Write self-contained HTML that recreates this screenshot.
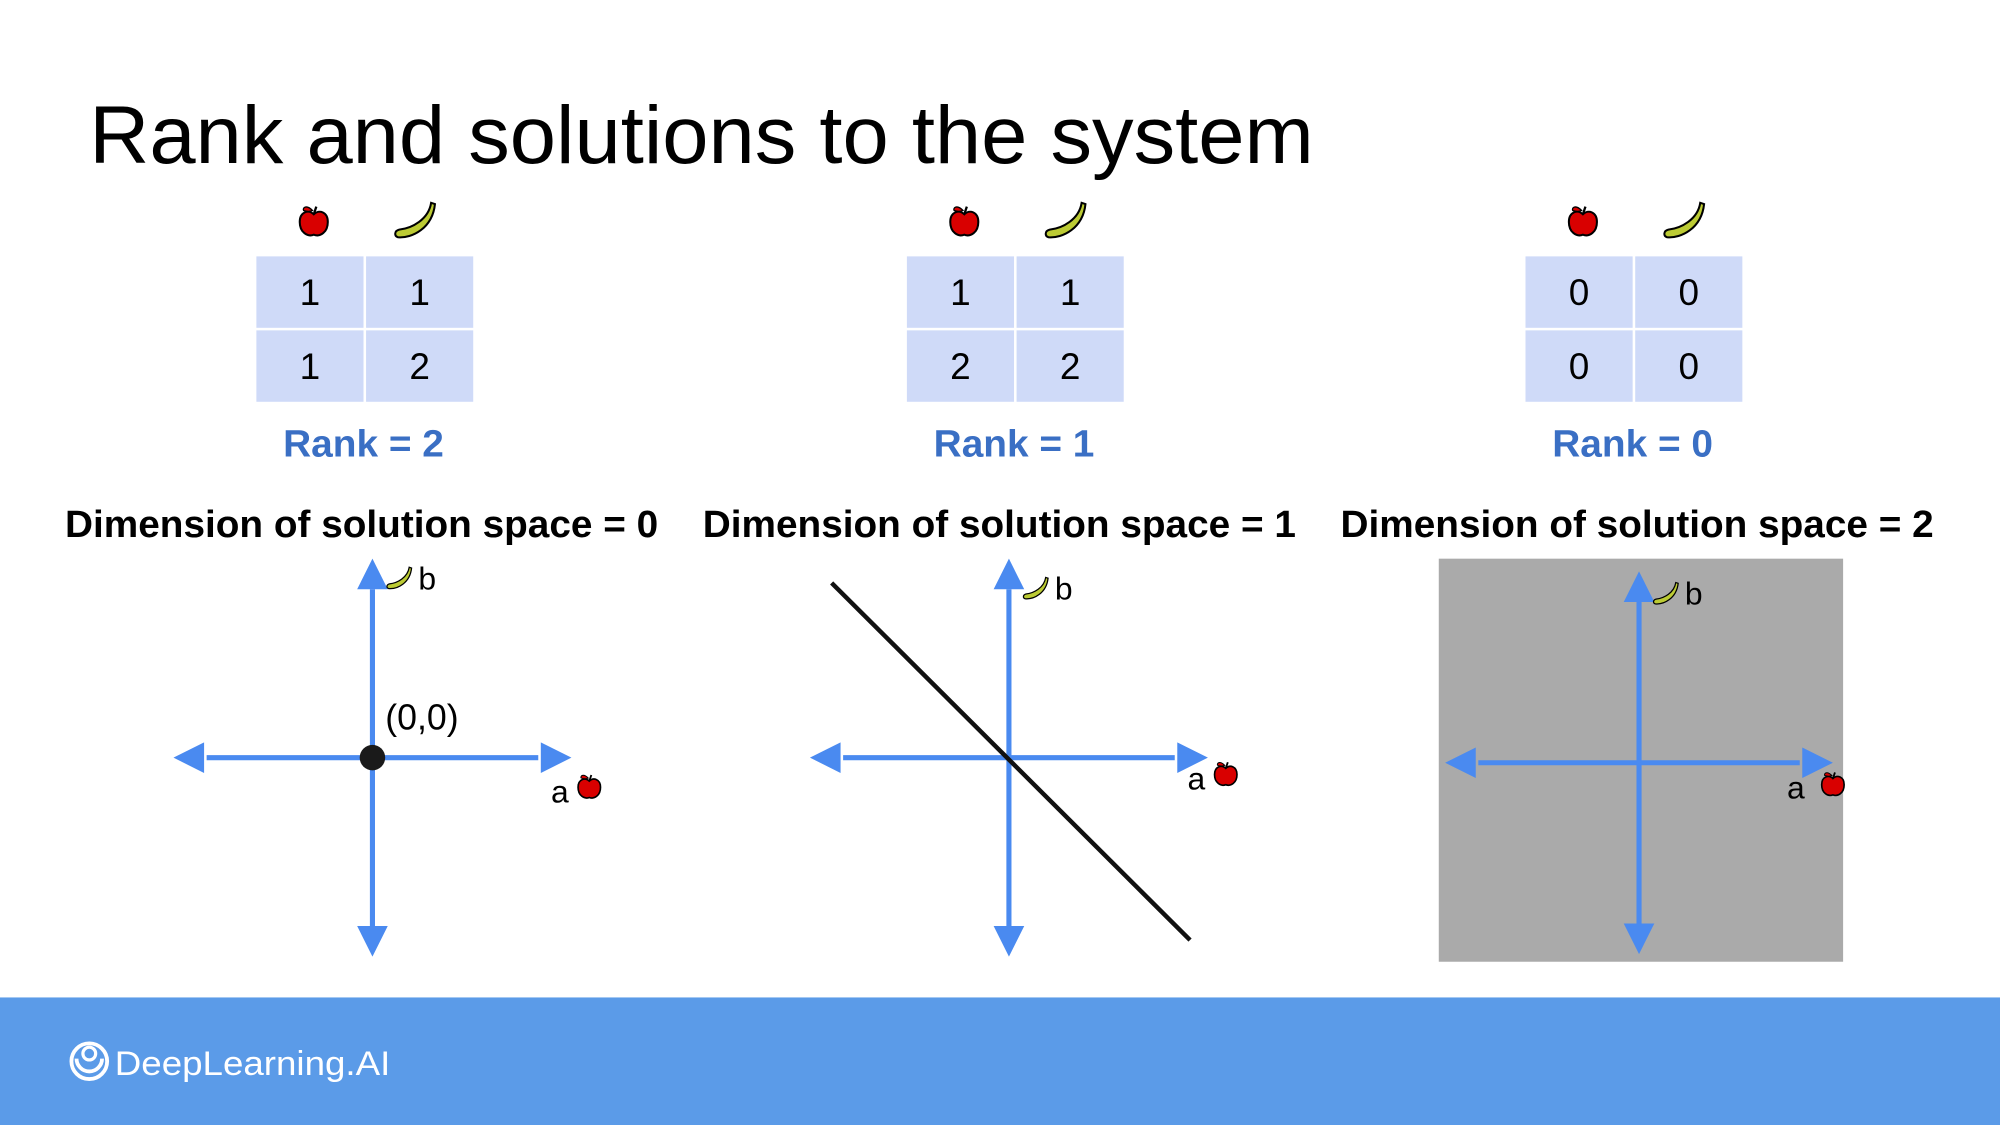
<!DOCTYPE html>
<html><head><meta charset="utf-8"><style>
html,body{margin:0;padding:0;background:#fff;}
svg{display:block;font-family:"Liberation Sans",Arial,sans-serif;}
</style></head><body>
<svg id="slide" width="2000" height="1125" viewBox="0 0 1568 882" xmlns="http://www.w3.org/2000/svg">
<defs>
<g id="apple"><path d="M0,-7 C-4,-11 -11,-9 -11,-1 C-11,7 -5,11 0,9 C5,11 11,7 11,-1 C11,-9 4,-11 0,-7Z" fill="#d90000" stroke="#000" stroke-width="1.6"/><path d="M0,-7 L2,-13" stroke="#000" stroke-width="1.8"/><path d="M-1,-10 C-6,-15 -9,-12 -8,-10 C-5,-9 -3,-9 -1,-10Z" fill="#d90000" stroke="#000" stroke-width="1"/></g>
<g id="banana"><path d="M-15,12 C-4,13 12,5 14,-14 L11,-15 C9,-2 -4,5 -14,6 C-18,7 -18,11 -15,12Z" fill="#bccb34" stroke="#000" stroke-width="1.6"/></g>
</defs>
<text x="70" y="128" font-size="64" fill="#000" textLength="960" lengthAdjust="spacingAndGlyphs">Rank and solutions to the system</text>
<g id="panels"></g>
<rect x="0" y="782" width="1568" height="100" fill="#5b9be8"/>
<g>
<circle cx="70" cy="832" r="14" fill="none" stroke="#fff" stroke-width="3"/>
<path d="M60,830 a10,10 0 0 0 20,0" fill="none" stroke="#fff" stroke-width="3"/>
<circle cx="70" cy="826" r="5" fill="none" stroke="#fff" stroke-width="2.5"/>
<text x="90" y="843" font-size="27" fill="#fff" textLength="216" lengthAdjust="spacingAndGlyphs">DeepLearning.AI</text>
</g>
</svg>
<script>
const matrices=[[[1,1],[1,2]],[[1,1],[2,2]],[[0,0],[0,0]]];
const ranks=[2,1,0];
const dims=[0,1,2];
const NS="http://www.w3.org/2000/svg";
const root=document.getElementById('panels');
function mk(tag,attrs,parent,txt){const e=document.createElementNS(NS,tag);for(const k in attrs)e.setAttribute(k,attrs[k]);if(txt!==undefined)e.textContent=txt;parent.appendChild(e);return e;}
const tableX=[201,711,1196];
const dimCx=[283,783,1283];
const centers=[[292,594],[791,594],[1285,598]];
const halfW=[144,144,140];
const halfH=[146,146,140];
const aOff=[[140,35,170,24],[140,25,170,14],[116,28,152,18]];
const blue="#4a8af0";
for(let p=0;p<3;p++){
  const g=mk('g',{},root);
  
  
  const tx=tableX[p];
  const a=mk('use',{href:'#apple',x:tx+45,y:175},g);
  
  
  const b=mk('use',{href:'#banana',x:tx+126,y:174},g);
  
  
  for(let r=0;r<2;r++)for(let c=0;c<2;c++){
    const cell=mk('rect',{x:tx+c*86,y:201+r*58,width:84,height:56,fill:'#cfdaf8'},g);
    
    
    const t=mk('text',{x:tx+c*86+42,y:201+r*58+38,'font-size':29,'text-anchor':'middle',fill:'#000'},g,matrices[p][r][c]);
    
    
  }
  const rk=mk('text',{x:tx+21,y:358,'font-size':30,'font-weight':'bold',fill:'#3a6fc4',textLength:126,lengthAdjust:'spacingAndGlyphs'},g,'Rank = '+ranks[p]);
  
  
  const dl=mk('text',{x:dimCx[p]-232,y:421,'font-size':30,'font-weight':'bold',fill:'#000',textLength:465,lengthAdjust:'spacingAndGlyphs'},g,'Dimension of solution space = '+dims[p]);
  
  
  const [cx,cy]=centers[p];
  if(dims[p]===2){
    const bg=mk('rect',{x:1128,y:438,width:317,height:316,fill:'#aaaaaa'},g);
    
    
  }
  const L=halfW[p], T=halfH[p];
  const ax=mk('g',{stroke:blue,'stroke-width':4,fill:blue},g);
  
  
  mk('line',{x1:cx-L+14,y1:cy,x2:cx+L-14,y2:cy},ax);
  mk('line',{x1:cx,y1:cy-T+14,x2:cx,y2:cy+T-14},ax);
  mk('path',{d:`M${cx-L-12},${cy} l24,-12 v24z`,stroke:'none'},ax);
  mk('path',{d:`M${cx+L+12},${cy} l-24,-12 v24z`,stroke:'none'},ax);
  mk('path',{d:`M${cx},${cy-T-10} l-12,24 h24z`,stroke:'none'},ax);
  mk('path',{d:`M${cx},${cy+T+10} l-12,-24 h24z`,stroke:'none'},ax);
  if(dims[p]===1){
    const ln=mk('line',{x1:cx-139,y1:cy-137,x2:cx+142,y2:cy+143,stroke:'#111','stroke-width':3.5},g);
    
    
  }
  if(dims[p]===0){
    const d=mk('circle',{cx:cx,cy:cy,r:10,fill:'#1a1a1a'},g);
    
    
    const o=mk('text',{x:302,y:572,'font-size':28,fill:'#000'},g,'(0,0)');
    
    
  }
  const by=(p===0?cy-140:cy-132);
  const bb=mk('use',{href:'#banana',x:0,y:0},g);
  bb.setAttribute('transform',`translate(${cx+22},${by}) scale(0.62)`);
  
  
  const bl=mk('text',{x:cx+36,y:by+8,'font-size':25,fill:'#000'},g,'b');
  
  
  const o=aOff[p];
  const al=mk('text',{x:cx+o[0],y:cy+o[1],'font-size':25,fill:'#000'},g,'a');
  
  
  const ai=mk('use',{href:'#apple',x:0,y:0},g);
  ai.setAttribute('transform',`translate(${cx+o[2]},${cy+o[3]}) scale(0.8)`);
  
  
}
</script>
</body></html>
